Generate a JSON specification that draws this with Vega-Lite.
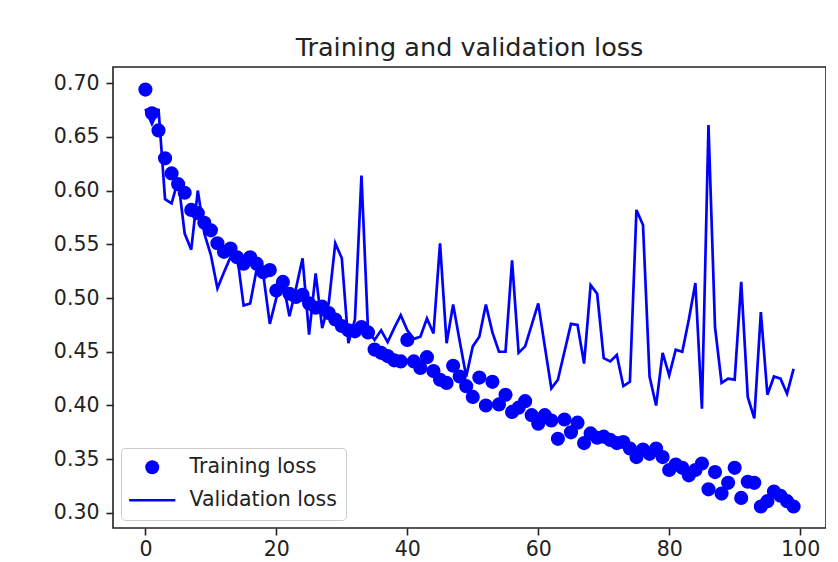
{
  "$schema": "https://vega.github.io/schema/vega-lite/v6.json",
  "width": 713,
  "height": 461,
  "padding": {"left": 53, "top": 35, "right": 0, "bottom": 0},
  "background": "white",
  "title": {"text": "Training and validation loss", "font": "DejaVu Sans", "fontSize": 25.5, "fontWeight": "normal", "color": "#222", "offset": 6, "anchor": "middle"},
  "data": {"values": [
    {"epoch": 0, "train": 0.694, "val": 0.676},
    {"epoch": 1, "train": 0.672, "val": 0.662},
    {"epoch": 2, "train": 0.656, "val": 0.676},
    {"epoch": 3, "train": 0.630, "val": 0.592},
    {"epoch": 4, "train": 0.616, "val": 0.588},
    {"epoch": 5, "train": 0.606, "val": 0.610},
    {"epoch": 6, "train": 0.598, "val": 0.560},
    {"epoch": 7, "train": 0.582, "val": 0.545},
    {"epoch": 8, "train": 0.579, "val": 0.600},
    {"epoch": 9, "train": 0.570, "val": 0.560},
    {"epoch": 10, "train": 0.563, "val": 0.540},
    {"epoch": 11, "train": 0.551, "val": 0.509},
    {"epoch": 12, "train": 0.543, "val": 0.524},
    {"epoch": 13, "train": 0.546, "val": 0.538},
    {"epoch": 14, "train": 0.538, "val": 0.540},
    {"epoch": 15, "train": 0.532, "val": 0.493},
    {"epoch": 16, "train": 0.538, "val": 0.495},
    {"epoch": 17, "train": 0.532, "val": 0.527},
    {"epoch": 18, "train": 0.524, "val": 0.522},
    {"epoch": 19, "train": 0.526, "val": 0.476},
    {"epoch": 20, "train": 0.507, "val": 0.500},
    {"epoch": 21, "train": 0.515, "val": 0.515},
    {"epoch": 22, "train": 0.504, "val": 0.483},
    {"epoch": 23, "train": 0.501, "val": 0.509},
    {"epoch": 24, "train": 0.503, "val": 0.537},
    {"epoch": 25, "train": 0.495, "val": 0.466},
    {"epoch": 26, "train": 0.491, "val": 0.523},
    {"epoch": 27, "train": 0.492, "val": 0.472},
    {"epoch": 28, "train": 0.486, "val": 0.495},
    {"epoch": 29, "train": 0.480, "val": 0.551},
    {"epoch": 30, "train": 0.474, "val": 0.537},
    {"epoch": 31, "train": 0.470, "val": 0.458},
    {"epoch": 32, "train": 0.469, "val": 0.480},
    {"epoch": 33, "train": 0.473, "val": 0.614},
    {"epoch": 34, "train": 0.468, "val": 0.470},
    {"epoch": 35, "train": 0.452, "val": 0.461},
    {"epoch": 36, "train": 0.449, "val": 0.470},
    {"epoch": 37, "train": 0.446, "val": 0.459},
    {"epoch": 38, "train": 0.442, "val": 0.472},
    {"epoch": 39, "train": 0.441, "val": 0.484},
    {"epoch": 40, "train": 0.461, "val": 0.470},
    {"epoch": 41, "train": 0.441, "val": 0.462},
    {"epoch": 42, "train": 0.435, "val": 0.464},
    {"epoch": 43, "train": 0.445, "val": 0.481},
    {"epoch": 44, "train": 0.432, "val": 0.467},
    {"epoch": 45, "train": 0.424, "val": 0.551},
    {"epoch": 46, "train": 0.421, "val": 0.458},
    {"epoch": 47, "train": 0.437, "val": 0.494},
    {"epoch": 48, "train": 0.427, "val": 0.460},
    {"epoch": 49, "train": 0.418, "val": 0.427},
    {"epoch": 50, "train": 0.408, "val": 0.455},
    {"epoch": 51, "train": 0.426, "val": 0.464},
    {"epoch": 52, "train": 0.400, "val": 0.494},
    {"epoch": 53, "train": 0.422, "val": 0.468},
    {"epoch": 54, "train": 0.401, "val": 0.450},
    {"epoch": 55, "train": 0.410, "val": 0.450},
    {"epoch": 56, "train": 0.394, "val": 0.535},
    {"epoch": 57, "train": 0.398, "val": 0.449},
    {"epoch": 58, "train": 0.404, "val": 0.455},
    {"epoch": 59, "train": 0.391, "val": 0.475},
    {"epoch": 60, "train": 0.383, "val": 0.495},
    {"epoch": 61, "train": 0.391, "val": 0.455},
    {"epoch": 62, "train": 0.386, "val": 0.416},
    {"epoch": 63, "train": 0.369, "val": 0.424},
    {"epoch": 64, "train": 0.387, "val": 0.450},
    {"epoch": 65, "train": 0.375, "val": 0.476},
    {"epoch": 66, "train": 0.384, "val": 0.475},
    {"epoch": 67, "train": 0.365, "val": 0.439},
    {"epoch": 68, "train": 0.374, "val": 0.512},
    {"epoch": 69, "train": 0.370, "val": 0.504},
    {"epoch": 70, "train": 0.371, "val": 0.444},
    {"epoch": 71, "train": 0.368, "val": 0.441},
    {"epoch": 72, "train": 0.365, "val": 0.447},
    {"epoch": 73, "train": 0.366, "val": 0.418},
    {"epoch": 74, "train": 0.360, "val": 0.422},
    {"epoch": 75, "train": 0.352, "val": 0.582},
    {"epoch": 76, "train": 0.359, "val": 0.568},
    {"epoch": 77, "train": 0.355, "val": 0.427},
    {"epoch": 78, "train": 0.360, "val": 0.400},
    {"epoch": 79, "train": 0.352, "val": 0.449},
    {"epoch": 80, "train": 0.340, "val": 0.428},
    {"epoch": 81, "train": 0.345, "val": 0.452},
    {"epoch": 82, "train": 0.342, "val": 0.450},
    {"epoch": 83, "train": 0.335, "val": 0.480},
    {"epoch": 84, "train": 0.340, "val": 0.514},
    {"epoch": 85, "train": 0.346, "val": 0.397},
    {"epoch": 86, "train": 0.322, "val": 0.661},
    {"epoch": 87, "train": 0.338, "val": 0.473},
    {"epoch": 88, "train": 0.318, "val": 0.421},
    {"epoch": 89, "train": 0.328, "val": 0.425},
    {"epoch": 90, "train": 0.342, "val": 0.424},
    {"epoch": 91, "train": 0.314, "val": 0.515},
    {"epoch": 92, "train": 0.329, "val": 0.408},
    {"epoch": 93, "train": 0.328, "val": 0.388},
    {"epoch": 94, "train": 0.306, "val": 0.487},
    {"epoch": 95, "train": 0.311, "val": 0.410},
    {"epoch": 96, "train": 0.320, "val": 0.427},
    {"epoch": 97, "train": 0.316, "val": 0.425},
    {"epoch": 98, "train": 0.311, "val": 0.411},
    {"epoch": 99, "train": 0.306, "val": 0.434}
  ]},
  "encoding": {
    "x": {"field": "epoch", "type": "quantitative",
      "scale": {"domain": [-4.95, 103.95], "nice": false, "zero": false},
      "axis": {"values": [0, 20, 40, 60, 80, 100], "format": "d", "labelPadding": 4}}
  },
  "layer": [
    {
      "mark": {"type": "point", "filled": true, "size": 200, "opacity": 1},
      "encoding": {
        "y": {"field": "train", "type": "quantitative",
          "scale": {"domain": [0.286, 0.715], "nice": false, "zero": false},
          "axis": {"values": [0.30, 0.35, 0.40, 0.45, 0.50, 0.55, 0.60, 0.65, 0.70], "format": ".2f"}},
        "color": {"datum": "Training loss", "type": "nominal",
          "legend": {
            "encode": {
              "symbols": {
                "update": {
                  "shape": {"signal": "datum.value === 'Training loss' ? 'circle' : 'M-3.3,0H3.3'"},
                  "fill": {"signal": "datum.value === 'Training loss' ? '#0000ff' : 'transparent'"},
                  "stroke": {"value": "#0000ff"},
                  "strokeWidth": {"signal": "datum.value === 'Training loss' ? 0 : 2.7"},
                  "opacity": {"value": 1}
                }
              }
            }
          }}
      }
    },
    {
      "mark": {"type": "line", "strokeWidth": 2.7},
      "encoding": {
        "y": {"field": "val", "type": "quantitative"},
        "color": {"datum": "Validation loss", "type": "nominal",
          "legend": {
            "encode": {
              "symbols": {
                "update": {
                  "shape": {"signal": "datum.value === 'Training loss' ? 'circle' : 'M-3.3,0H3.3'"},
                  "fill": {"signal": "datum.value === 'Training loss' ? '#0000ff' : 'transparent'"},
                  "stroke": {"value": "#0000ff"},
                  "strokeWidth": {"signal": "datum.value === 'Training loss' ? 0 : 2.7"},
                  "opacity": {"value": 1}
                }
              }
            }
          }}
      }
    }
  ],
  "resolve": {"scale": {"color": "shared"}},
  "config": {
    "font": "DejaVu Sans",
    "view": {"stroke": "#222", "strokeWidth": 1.6},
    "range": {"category": ["#0000ff", "#0000ff"]},
    "axis": {
      "title": null, "grid": false, "domain": false,
      "labelFont": "DejaVu Sans", "labelFontSize": 20.5, "labelColor": "#222",
      "tickColor": "#222", "tickSize": 7, "tickWidth": 1.6, "labelPadding": 7
    },
    "legend": {
      "title": null, "orient": "bottom-left", "offset": 8,
      "labelFont": "DejaVu Sans", "labelFontSize": 20.5, "labelColor": "#222",
      "padding": 9, "rowPadding": 12, "strokeColor": "#cccccc", "fillColor": "white",
      "cornerRadius": 4, "symbolSize": 196, "symbolOffset": 12, "labelOffset": 27
    }
  }
}
